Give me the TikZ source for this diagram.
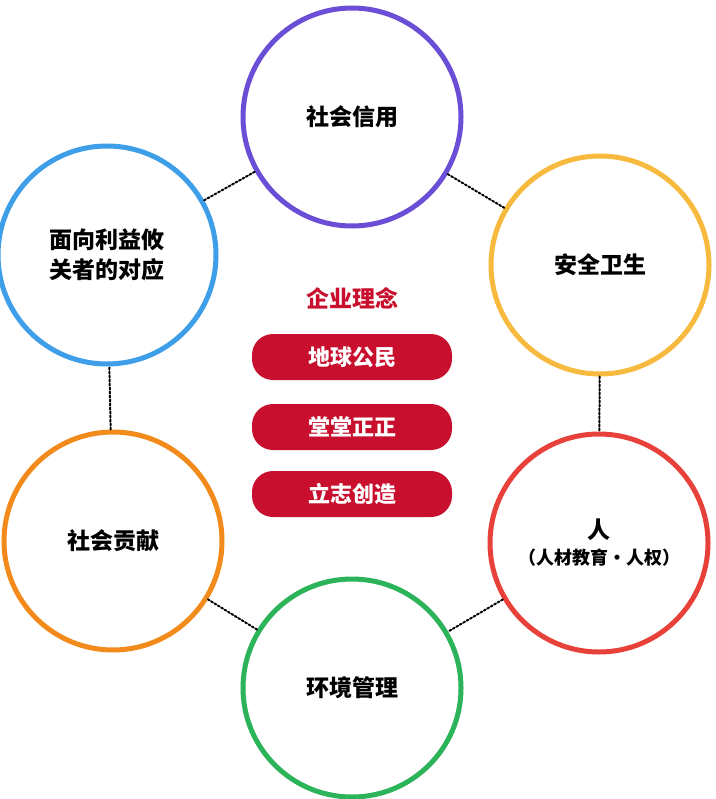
\documentclass[tikz,border=0pt]{standalone}
\usepackage{fontspec}
\newfontfamily\cjk{Noto Sans CJK SC}
\usetikzlibrary{positioning}

\definecolor{cpurple}{HTML}{6A4FD6}
\definecolor{cyellow}{HTML}{F7BA3E}
\definecolor{cblue}{HTML}{3E9EE8}
\definecolor{corange}{HTML}{F38B1C}
\definecolor{cred}{HTML}{E8413A}
\definecolor{cgreen}{HTML}{2DB35A}
\definecolor{cdeep}{HTML}{C8102E}

\begin{document}
\begin{tikzpicture}[x=1pt,y=-1pt,
        ring/.style = {circle, draw=#1, line width=5pt, minimum size=218pt, inner sep=0pt,
                       align=center, font=\cjk\bfseries\fontsize{23}{30}\selectfont},
        pill/.style = {fill=cdeep, text=white, rounded corners=21pt, minimum width=200pt,
                       minimum height=46pt, font=\cjk\bfseries\fontsize{22}{26}\selectfont},
        link/.style = {dotted, line width=2pt, line cap=round}
        ]
    \useasboundingbox (0,0) rectangle (715,799);

    \node[ring=cpurple] (credit) at (352,117) {社会信用};
    \node[ring=cyellow] (safety) at (600,265) {安全卫生};
    \node[ring=cred]    (people) at (599,543) {人\\[-4pt]{\fontsize{18}{22}\selectfont（人材教育·人权）}};
    \node[ring=cgreen]  (env)    at (352,688) {环境管理};
    \node[ring=corange] (contrib) at (113,541) {社会贡献};
    \node[ring=cblue]   (stake)  at (107,255) {面向利益攸\\关者的对应};

    \draw[link] (credit) -- (safety);
    \draw[link] (safety) -- (people);
    \draw[link] (people) -- (env);
    \draw[link] (env) -- (contrib);
    \draw[link] (contrib) -- (stake);
    \draw[link] (stake) -- (credit);

    % centre
    \node[text=cdeep, font=\cjk\bfseries\fontsize{23}{26}\selectfont] (title) at (352,298) {企业理念};
    \node[pill] (p1) at (352,357) {地球公民};
    \node[pill] (p2) at (352,427) {堂堂正正};
    \node[pill] (p3) at (352,494) {立志创造};
\end{tikzpicture}
\end{document}
